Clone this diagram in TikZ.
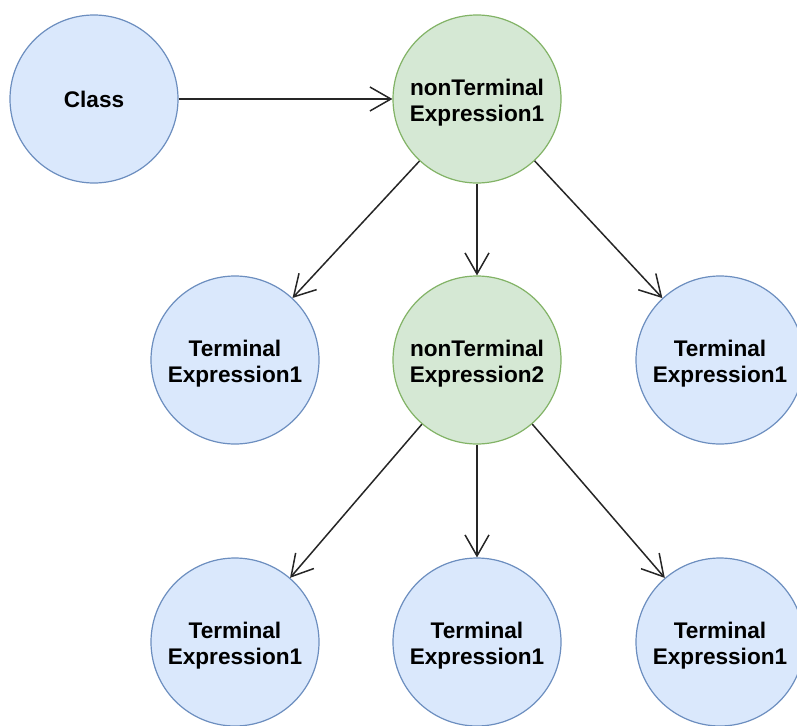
\documentclass[tikz,border=0pt]{standalone}
\usepackage{fontspec}
\setmainfont{Liberation Sans}
\usetikzlibrary{arrows.meta}
\definecolor{bluefill}{HTML}{DAE8FC}
\definecolor{bluedraw}{HTML}{6C8EBF}
\definecolor{greenfill}{HTML}{D5E8D4}
\definecolor{greendraw}{HTML}{82B366}
% two centred lines, set a little below the node centre
\newcommand\twoline[2]{\raisebox{-4pt}[\height][\depth]{\begin{tabular}{@{}c@{}}#1\\#2\end{tabular}}}
\tikzset{
  ball/.style={circle, minimum size=168pt, inner sep=0pt, line width=1.2pt,
    font=\bfseries\fontsize{22.6}{26}\selectfont},
  leaf/.style={ball, draw=bluedraw, fill=bluefill},
  inner/.style={ball, draw=greendraw, fill=greenfill},
  link/.style={line width=1.5pt, draw=black!85,
    -{Straight Barb[length=21pt, width=24pt, line width=1.5pt]}}
}
\begin{document}
\begin{tikzpicture}[x=1pt, y=-1pt]
\useasboundingbox (0,0) rectangle (797,725);
% nodes
\node[leaf]  (cls) at (94,99)   {Class};
\node[inner] (nt1) at (477,99)  {\twoline{nonTerminal}{Expression1}};
\node[leaf]  (t1)  at (235,360) {\twoline{Terminal}{Expression1}};
\node[inner] (nt2) at (477,360) {\twoline{nonTerminal}{Expression2}};
\node[leaf]  (t2)  at (720,360) {\twoline{Terminal}{Expression1}};
\node[leaf]  (t3)  at (235,642) {\twoline{Terminal}{Expression1}};
\node[leaf]  (t4)  at (477,642) {\twoline{Terminal}{Expression1}};
\node[leaf]  (t5)  at (720,642) {\twoline{Terminal}{Expression1}};
% connectors
\draw[link] (cls) -- (nt1);
\draw[link] (nt1) -- (t1);
\draw[link] (nt1) -- (nt2);
\draw[link] (nt1) -- (t2);
\draw[link] (nt2) -- (t3);
\draw[link] (nt2) -- (t4);
\draw[link] (nt2) -- (t5);
\end{tikzpicture}
\end{document}
